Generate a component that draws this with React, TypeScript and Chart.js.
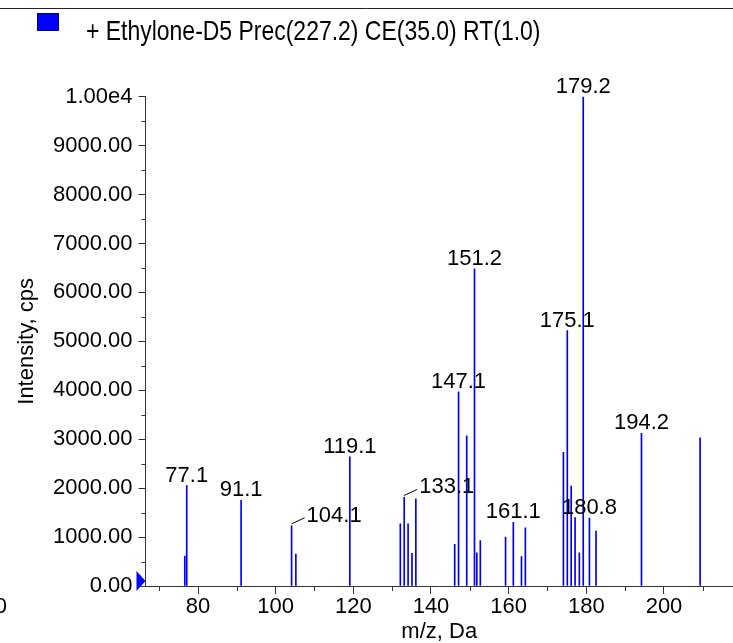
import React, { useEffect, useRef } from 'react';
import { Chart, registerables } from 'chart.js';

Chart.register(...registerables);

const SERIES_NAME = '+ Ethylone-D5 Prec(227.2) CE(35.0) RT(1.0)';
const X_TITLE = 'm/z, Da';
const Y_TITLE = 'Intensity, cps';

// peak positions (m/z) and intensities (cps)
const MZ = [76.6, 77.1, 91.1, 104.1, 105.2, 119.1, 132.1, 133.1, 134.1, 135.1, 136.1, 146.1, 147.1, 149.2, 151.2, 151.8, 152.7, 159.2, 161.2, 163.3, 164.3, 174.1, 175.1, 176.1, 177.1, 178.2, 179.2, 180.8, 182.5, 194.2, 209.3];
const INTENSITY = [610, 2050, 1750, 1230, 650, 2640, 1270, 1810, 1270, 670, 1780, 850, 3970, 3070, 6480, 680, 930, 1000, 1300, 600, 1190, 2730, 5220, 2040, 1400, 680, 10000, 1390, 1120, 3120, 3030];

// annotated peaks
const LABEL_TEXT = ['77.1', '91.1', '104.1', '119.1', '133.1', '147.1', '151.2', '161.1', '175.1', '179.2', '180.8', '194.2'];
const LABEL_MZ = [77.1, 91.1, 104.1, 119.1, 133.1, 147.1, 151.2, 161.2, 175.1, 179.2, 180.8, 194.2];
const LEADER_LABELS = ['104.1', '133.1'];

const X_MIN = 66.48;
const X_MAX = 217.77;
const Y_MIN = 0;
const Y_MAX = 10000;

const FONT = "'Liberation Sans', Arial, sans-serif";
const AXIS_COLOR = '#333333';
const BAR_COLOR = 'rgb(0,0,245)';

function fmtY(v: number): string {
  if (v % 1000 !== 0) return '';
  if (v === 10000) return '1.00e4';
  return v.toFixed(2);
}

const overlay = {
  id: 'overlay',
  afterDraw(chart: any) {
    const { ctx } = chart;
    const xs = chart.scales.x;
    const ys = chart.scales.y;
    ctx.save();
    // minor ticks
    ctx.strokeStyle = AXIS_COLOR;
    ctx.lineWidth = 1;
    ys.ticks.forEach((t: any) => {
      if (t.value % 1000 !== 0) {
        const py = Math.round(ys.getPixelForValue(t.value)) + 0.5;
        ctx.beginPath();
        ctx.moveTo(xs.left - 4, py);
        ctx.lineTo(xs.left, py);
        ctx.stroke();
      }
    });
    xs.ticks.forEach((t: any) => {
      if (t.value % 20 !== 0) {
        const px = Math.round(xs.getPixelForValue(t.value)) + 0.5;
        ctx.beginPath();
        ctx.moveTo(px, ys.bottom);
        ctx.lineTo(px, ys.bottom + 5);
        ctx.stroke();
      }
    });

    // zero marker triangle
    const y0 = ys.getPixelForValue(0);
    ctx.fillStyle = '#0000ff';
    ctx.beginPath();
    ctx.moveTo(xs.left, y0 - 5);
    ctx.lineTo(xs.left - 9, y0 - 15);
    ctx.lineTo(xs.left - 9, y0 + 5);
    ctx.closePath();
    ctx.fill();

    // peak labels
    ctx.fillStyle = '#000';
    ctx.font = `22px ${FONT}`;
    ctx.textBaseline = 'alphabetic';
    LABEL_TEXT.forEach((txt, i) => {
      const m = LABEL_MZ[i];
      let best = 0;
      MZ.forEach((v, j) => {
        if (Math.abs(v - m) < Math.abs(MZ[best] - m)) best = j;
      });
      const px = xs.getPixelForValue(MZ[best]);
      const top = ys.getPixelForValue(INTENSITY[best]);
      if (LEADER_LABELS.includes(txt)) {
        ctx.textAlign = 'left';
        ctx.fillText(txt, px + 15, top - 4);
        ctx.beginPath();
        ctx.strokeStyle = '#000';
        ctx.moveTo(px, top - 2);
        ctx.lineTo(px + 13, top - 8);
        ctx.stroke();
      } else {
        ctx.textAlign = 'center';
        ctx.fillText(txt, xs.getPixelForValue(m), top - 4);
      }
    });

    // cut-off label at far left
    ctx.textAlign = 'right';
    ctx.textBaseline = 'middle';
    ctx.fillText('0', 7, 607);

    // top frame line
    ctx.strokeStyle = '#222';
    ctx.beginPath();
    ctx.moveTo(0, 8.5);
    ctx.lineTo(chart.width, 8.5);
    ctx.stroke();

    // legend
    ctx.fillStyle = '#0000ff';
    ctx.fillRect(37, 13, 22, 18);
    ctx.strokeStyle = '#000080';
    ctx.strokeRect(37.5, 13.5, 21, 17);
    ctx.fillStyle = '#000';
    ctx.textAlign = 'left';
    ctx.textBaseline = 'alphabetic';
    ctx.translate(86, 40);
    ctx.scale(0.82, 1);
    ctx.font = `28px ${FONT}`;
    ctx.fillText(SERIES_NAME, 0, 0);
    ctx.restore();
  },
};

export default function App() {
  const ref = useRef<HTMLCanvasElement | null>(null);
  useEffect(() => {
    document.body.style.margin = '0';
    const canvas = ref.current;
    if (!canvas) return;
    const chart = new Chart(canvas, {
      type: 'bar',
      data: {
        datasets: [
          {
            label: SERIES_NAME,
            data: MZ.map((m, i) => ({ x: m, y: INTENSITY[i] })),
            backgroundColor: BAR_COLOR,
            borderWidth: 0,
            barThickness: 1,
          } as any,
        ],
      },
      options: {
        animation: false,
        responsive: false,
        maintainAspectRatio: false,
        layout: { padding: { top: 96.7, left: 0, right: 0, bottom: 0 } },
        plugins: { legend: { display: false }, tooltip: { enabled: false }, title: { display: false } },
        scales: {
          x: {
            type: 'linear',
            min: X_MIN,
            max: X_MAX,
            offset: false,
            grid: {
              offset: false,
              drawOnChartArea: false,
              tickLength: 8,
              tickColor: (c: any) => (c.tick && c.tick.value % 20 === 0 ? AXIS_COLOR : 'rgba(0,0,0,0)'),
            },
            border: { color: AXIS_COLOR, width: 1 },
            ticks: {
              stepSize: 10,
              autoSkip: false,
              includeBounds: false,
              maxRotation: 0,
              padding: 0,
              color: '#000',
              font: { family: FONT, size: 22 },
              callback: (v: any) => (Number(v) % 20 === 0 ? String(v) : ''),
            },
            title: {
              display: true,
              text: X_TITLE,
              color: '#000',
              font: { family: FONT, size: 22, lineHeight: 1 },
              padding: { top: 0, bottom: 0 },
            },
            afterFit: (s: any) => {
              s.height = 57;
            },
          } as any,
          y: {
            type: 'linear',
            min: Y_MIN,
            max: Y_MAX,
            grid: {
              drawOnChartArea: false,
              tickLength: 7,
              tickColor: (c: any) => (c.tick && c.tick.value % 1000 === 0 ? AXIS_COLOR : 'rgba(0,0,0,0)'),
            },
            border: { color: AXIS_COLOR, width: 1 },
            ticks: {
              stepSize: 500,
              autoSkip: false,
              padding: 6,
              color: '#000',
              font: { family: FONT, size: 22 },
              callback: (v: any) => fmtY(Number(v)),
            },
            title: {
              display: true,
              text: Y_TITLE,
              color: '#000',
              font: { family: FONT, size: 22, lineHeight: 1.2 },
              padding: { top: 14, bottom: 0 },
            },
            afterFit: (s: any) => {
              s.width = 145.5;
            },
          } as any,
        },
      },
      plugins: [overlay],
    });
    return () => chart.destroy();
  }, []);
  return (
    <div style={{ width: 733, height: 643 }}>
      <canvas ref={ref} width={733} height={643} style={{ display: 'block' }} />
    </div>
  );
}
